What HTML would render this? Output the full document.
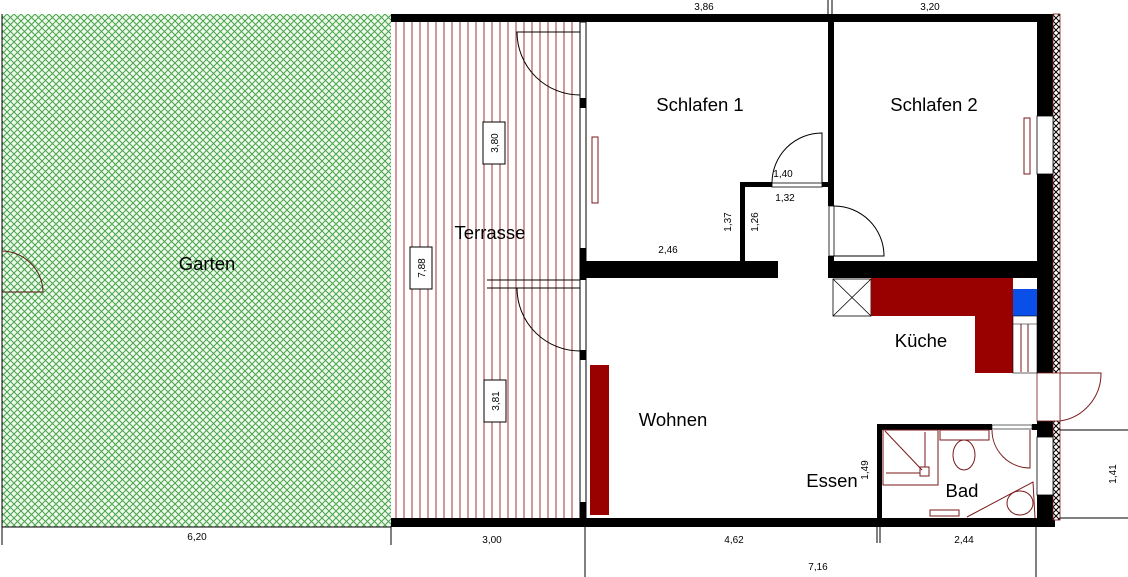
<!DOCTYPE html>
<html><head><meta charset="utf-8"><style>
html,body{margin:0;padding:0;background:#fff;width:1128px;height:577px;overflow:hidden}
svg{display:block}
text{font-family:"Liberation Sans",Arial,sans-serif;fill:#000}
</style></head><body>
<svg width="1128" height="577" viewBox="0 0 1128 577" xmlns="http://www.w3.org/2000/svg">
<defs>
<pattern id="g" width="7" height="7" patternUnits="userSpaceOnUse">
<rect width="7" height="7" fill="#eefcee"/>
<path d="M0 0L7 7M7 0L0 7" stroke="#4aa04a" stroke-width="1"/>
</pattern>
<pattern id="t" width="8" height="10" patternUnits="userSpaceOnUse">
<rect width="8" height="10" fill="#fff"/>
<line x1="4" y1="0" x2="4" y2="10" stroke="#a83030" stroke-width="1"/>
</pattern>
<pattern id="h" width="6" height="6" patternUnits="userSpaceOnUse">
<rect width="6" height="6" fill="#fff"/>
<path d="M0 0L6 6M6 0L0 6" stroke="#000" stroke-width="1"/>
</pattern>
</defs>
<rect x="2" y="14" width="389" height="513" fill="url(#g)"/>
<line x1="2" y1="14" x2="2" y2="545" stroke="#000"/>
<path d="M2 251 A42 42 0 0 1 43 292 L2 292" fill="none" stroke="#5a1a1a" stroke-width="1"/>
<text x="207" y="270" font-size="18.5" text-anchor="middle">Garten</text>
<rect x="392" y="22" width="188" height="496" fill="url(#t)"/>
<rect x="391" y="14" width="664" height="8" fill="#000"/>
<rect x="391" y="518" width="664" height="9" fill="#000"/>
<rect x="1037" y="14" width="16" height="513" fill="#000"/>
<rect x="1053" y="14" width="7" height="506" fill="url(#h)" stroke="#7a1a1a" stroke-width="0.8"/>
<rect x="1037" y="116" width="16" height="58" fill="#fff" stroke="#000" stroke-width="0.8"/>
<rect x="1037" y="373" width="23" height="48" fill="#fff" stroke="#7a1a1a" stroke-width="0.8"/>
<path d="M1060 373 L1101 373 A48 48 0 0 1 1060 421" fill="none" stroke="#7a1a1a" stroke-width="1"/>
<rect x="1037" y="437" width="16" height="58" fill="#fff" stroke="#000" stroke-width="0.8"/>
<rect x="580" y="22" width="6" height="496" fill="#fff" stroke="#000" stroke-width="1"/>
<rect x="580" y="98" width="6" height="10" fill="#000"/>
<rect x="580" y="248" width="6" height="32" fill="#000"/>
<rect x="580" y="350" width="6" height="10" fill="#000"/>
<rect x="580" y="502" width="6" height="16" fill="#000"/>
<path d="M580 32 L517 32 A63 63 0 0 0 580 95" fill="none" stroke="#000" stroke-width="1"/>
<path d="M580 288 L517 288 A63 63 0 0 0 580 351" fill="none" stroke="#000" stroke-width="1"/>
<line x1="487" y1="280" x2="580" y2="280" stroke="#000"/>
<line x1="487" y1="288" x2="517" y2="288" stroke="#000"/>
<rect x="580" y="261" width="198" height="17" fill="#000"/>
<rect x="828" y="22" width="6" height="184" fill="#000"/>
<rect x="829" y="206" width="5" height="50" fill="#fff" stroke="#000" stroke-width="0.8"/>
<rect x="828" y="256" width="6" height="22" fill="#000"/>
<rect x="828" y="261" width="209" height="17" fill="#000"/>
<path d="M834 256 L884 256 A50 50 0 0 0 834 206" fill="none" stroke="#000" stroke-width="1"/>
<rect x="740" y="182" width="5" height="80" fill="#000"/>
<rect x="740" y="182" width="32" height="5" fill="#000"/>
<rect x="772" y="183" width="50" height="4" fill="#fff" stroke="#000" stroke-width="0.8"/>
<rect x="822" y="182" width="7" height="5" fill="#000"/>
<path d="M822 183 L822 133 A50 50 0 0 0 772 183" fill="none" stroke="#000" stroke-width="1"/>
<rect x="592" y="137" width="6" height="66" fill="#fff" stroke="#7a1a1a"/>
<rect x="1024" y="118" width="6" height="56" fill="#fff" stroke="#7a1a1a"/>
<rect x="590" y="365" width="19" height="150" fill="#990000"/>
<rect x="833" y="279" width="38" height="37" fill="#fff" stroke="#000" stroke-width="0.8"/>
<path d="M833 279L871 316M871 279L833 316" stroke="#000" stroke-width="0.8"/>
<path d="M871 278 H1013 V373 H975 V316 H871 Z" fill="#990000"/>
<rect x="1013" y="289" width="24" height="27" fill="#0a50e8"/>
<rect x="1013" y="316" width="24" height="57" fill="#fff" stroke="#000" stroke-width="0.6"/>
<line x1="1021" y1="324" x2="1021" y2="372" stroke="#7a1a1a"/>
<line x1="1028" y1="324" x2="1028" y2="372" stroke="#7a1a1a"/>
<line x1="1013" y1="324" x2="1037" y2="324" stroke="#000" stroke-width="0.6"/>
<rect x="877" y="424" width="5" height="103" fill="#000"/>
<rect x="877" y="424" width="115" height="6" fill="#000"/>
<rect x="992" y="425" width="40" height="4" fill="#fff" stroke="#000" stroke-width="0.6"/>
<rect x="1032" y="424" width="5" height="6" fill="#000"/>
<g fill="none" stroke="#7a1a1a" stroke-width="1">
<rect x="883" y="430" width="55" height="55"/>
<path d="M885 431 L922 470 M925 432 V467 M886 473 H920"/>
<rect x="920" y="467" width="9" height="9"/>
<rect x="940" y="430" width="49" height="10"/>
<ellipse cx="964" cy="455" rx="11" ry="15"/>
<path d="M992 430 A38 38 0 0 0 1030 468 V430"/>
<path d="M967 517 L1033 482 L1035 518"/>
<ellipse cx="1020" cy="503" rx="13" ry="12"/>
<rect x="930" y="510" width="29" height="6"/>
</g>
<g font-size="18.5" text-anchor="middle">
<text x="700" y="111">Schlafen 1</text>
<text x="934" y="111">Schlafen 2</text>
<text x="490" y="239">Terrasse</text>
<text x="921" y="347">Küche</text>
<text x="673" y="426">Wohnen</text>
<text x="832" y="487">Essen</text>
<text x="962" y="497">Bad</text>
</g>
<g font-size="10">
<text x="704" y="10" text-anchor="middle">3,86</text>
<text x="930" y="10" text-anchor="middle">3,20</text>
<text x="783" y="177" text-anchor="middle">1,40</text>
<text x="785" y="201" text-anchor="middle">1,32</text>
<text x="668" y="253" text-anchor="middle">2,46</text>
<text transform="translate(731,222) rotate(-90)" text-anchor="middle">1,37</text>
<text transform="translate(758,222) rotate(-90)" text-anchor="middle">1,26</text>
<text transform="translate(868,470) rotate(-90)" text-anchor="middle">1,49</text>
<text transform="translate(1116,474) rotate(-90)" text-anchor="middle">1,41</text>
<text x="197" y="540" text-anchor="middle">6,20</text>
<text x="492" y="543" text-anchor="middle">3,00</text>
<text x="734" y="543" text-anchor="middle">4,62</text>
<text x="818" y="570" text-anchor="middle">7,16</text>
<text x="964" y="543" text-anchor="middle">2,44</text>
</g>
<g fill="#fff" stroke="#000" stroke-width="1">
<rect x="483" y="122" width="22" height="42"/>
<rect x="410" y="247" width="22" height="42"/>
<rect x="484" y="380" width="22" height="42"/>
</g>
<g font-size="10">
<text transform="translate(498,143) rotate(-90)" text-anchor="middle">3,80</text>
<text transform="translate(425,268) rotate(-90)" text-anchor="middle">7,88</text>
<text transform="translate(499,401) rotate(-90)" text-anchor="middle">3,81</text>
</g>
<g stroke="#000" stroke-width="1">
<line x1="2" y1="527" x2="391" y2="527"/>
<line x1="391" y1="527" x2="391" y2="545"/>
<line x1="585" y1="527" x2="585" y2="577"/>
<line x1="877" y1="527" x2="877" y2="543"/>
<line x1="880" y1="527" x2="880" y2="543"/>
<line x1="1036" y1="527" x2="1036" y2="577"/>
<line x1="828" y1="0" x2="828" y2="14"/>
<line x1="832" y1="0" x2="832" y2="14"/>
<line x1="1060" y1="430" x2="1128" y2="430"/>
<line x1="1060" y1="518" x2="1128" y2="518"/>
</g>
</svg>
</body></html>
